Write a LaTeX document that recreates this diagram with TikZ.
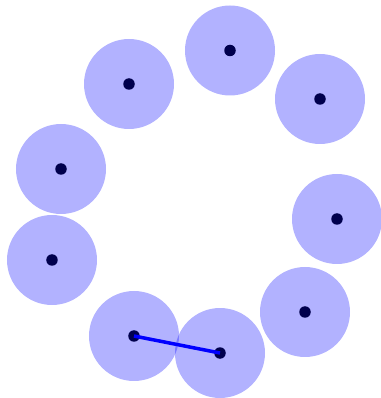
\documentclass[tikz,border=0pt]{standalone}
\tikzset{
  dot/.style={circle, fill=black, inner sep=0pt, minimum size=2.3mm},
  disc/.style={circle, fill=blue, fill opacity=0.3, inner sep=0pt, minimum size=1.8cm},
  link/.style={blue, line width=2pt}
}
\begin{document}
\begin{tikzpicture}
  \useasboundingbox (0,0) rectangle (7.62,7.96);
  \node[dot] (p1) at (4.60,6.95) {};
  \node[dot] (p2) at (6.40,5.98) {};
  \node[dot] (p3) at (2.58,6.28) {};
  \node[dot] (p4) at (1.22,4.58) {};
  \node[dot] (p5) at (6.74,3.58) {};
  \node[dot] (p6) at (1.04,2.76) {};
  \node[dot] (p7) at (6.10,1.72) {};
  \node[dot] (p8) at (2.68,1.24) {};
  \node[dot] (p9) at (4.40,0.90) {};
  \draw[link] (p8.center) -- (p9.center);
  \node[disc] (d1) at (p1) {};
  \node[disc] (d2) at (p2) {};
  \node[disc] (d3) at (p3) {};
  \node[disc] (d4) at (p4) {};
  \node[disc] (d5) at (p5) {};
  \node[disc] (d6) at (p6) {};
  \node[disc] (d7) at (p7) {};
  \node[disc] (d8) at (p8) {};
  \node[disc] (d9) at (p9) {};
\end{tikzpicture}
\end{document}
